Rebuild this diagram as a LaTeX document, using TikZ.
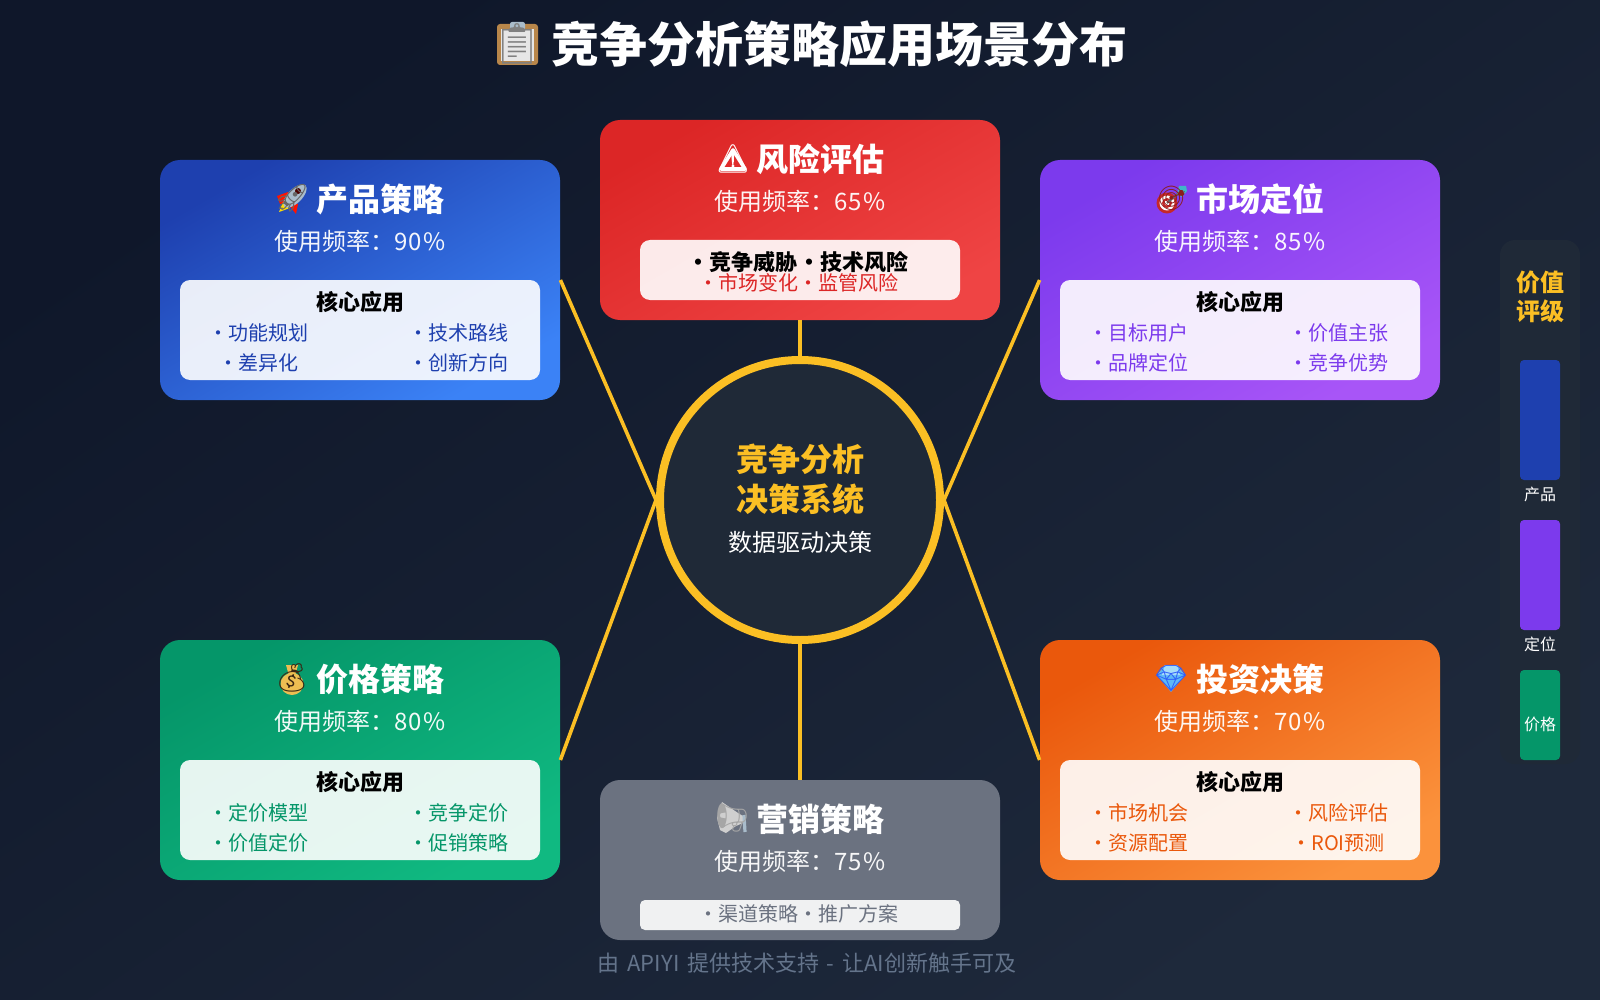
\documentclass[tikz,border=0pt]{standalone}
\usepackage{fontspec}
\setmainfont{Noto Sans CJK SC}
\newfontfamily\emojifont{Noto Emoji}

\definecolor{bgdark}{HTML}{0F172A}
\definecolor{bglight}{HTML}{1E293B}
\definecolor{hubfill}{HTML}{1F2937}
\definecolor{gold}{HTML}{FBBF24}
\definecolor{blueA}{HTML}{1E40AF}
\definecolor{blueB}{HTML}{3B82F6}
\definecolor{redA}{HTML}{DC2626}
\definecolor{redB}{HTML}{EF4444}
\definecolor{purpleA}{HTML}{7C3AED}
\definecolor{purpleB}{HTML}{A855F7}
\definecolor{greenA}{HTML}{059669}
\definecolor{greenB}{HTML}{10B981}
\definecolor{orangeA}{HTML}{EA580C}
\definecolor{orangeB}{HTML}{FB923C}
\definecolor{grayA}{HTML}{6B7280}
\definecolor{footgray}{HTML}{64748B}
\definecolor{tan}{HTML}{B8864A}
\definecolor{paper}{HTML}{E6E6E6}
\definecolor{steel}{HTML}{A9BCCB}
\definecolor{bagyellow}{HTML}{EDBE52}
\definecolor{gemblue}{HTML}{5DB8F5}
\definecolor{gemlight}{HTML}{A6DCFA}
\definecolor{dartred}{HTML}{C62828}
\definecolor{dartcyan}{HTML}{3FB6C8}
\definecolor{hornlight}{HTML}{CFCFCF}

\tikzset{
  cardbox/.style={inner sep=0pt, minimum width=200pt, rounded corners=10pt},
  cardshade/.style 2 args={top color=#1, bottom color=#2, shading angle=30},
  panelbox/.style={inner sep=0pt, minimum width=#1, fill=white, fill opacity=0.9, rounded corners=5pt},
  cardtitle/.style={inner sep=0pt, text=white, font=\fontsize{16}{16}\selectfont\bfseries},
  cardemoji/.style={inner sep=0pt, text=#1, font=\emojifont\fontsize{14}{14}\selectfont},
  cardfreq/.style={inner sep=0pt, text=white, opacity=0.95, font=\fontsize{12}{12}\selectfont},
  panelhead/.style={inner sep=0pt, text=black, font=\fontsize{11}{11}\selectfont\bfseries},
  paneltext/.style={inner sep=0pt, text=#1, font=\fontsize{10}{10}\selectfont},
  spoke/.style={draw=gold, line width=1.8pt},
  ratebar/.style={inner sep=0pt, minimum width=20pt, rounded corners=2pt, fill=#1},
  ratetext/.style={inner sep=0pt, text=white, font=\fontsize{8}{8}\selectfont},
  ratehead/.style={inner sep=0pt, text=gold, font=\fontsize{12}{12}\selectfont\bfseries}
}
\newcommand\Pct[1]{{\addfontfeature{LetterSpace=6}#1\%}}
\newcommand\Sp{\hspace{-.224em}\space}
\newcommand\Wd{\space\hspace{1.4pt}}

\begin{document}
\begin{tikzpicture}[x=0.5pt, y=-0.5pt]
\shade[top color=bgdark, bottom color=bglight, shading angle=35](0,0) rectangle (1600,1000);
\useasboundingbox (0,0) rectangle (1600,1000);

%% title
\fill[tan, rounded corners=1.5pt](497,24) rectangle (538,65);
\fill[paper](501,29) rectangle (534,61);
\fill[steel, rounded corners=1pt](510,22) rectangle (525,30);
\node[cardemoji=gray, font=\emojifont\fontsize{20}{20}\selectfont] (titleE) at (517,44) {📋};
\node[inner sep=0pt, text=white, font=\fontsize{24}{24}\selectfont\bfseries] (title) at (839,44)
{竞争分析策略应用场景分布};

%% hub
\node[circle, minimum size=140pt, inner sep=0pt, fill=hubfill, draw=gold, line width=4pt] (hub) at (800,500) {};
\node[inner sep=0pt, text=gold, font=\fontsize{16}{16}\selectfont\bfseries] (hubA) at (800,459) {竞争分析};
\node[inner sep=0pt, text=gold, font=\fontsize{16}{16}\selectfont\bfseries] (hubB) at (800,499) {决策系统};
\node[inner sep=0pt, text=white, font=\fontsize{12}{12}\selectfont] (hubC) at (800,542) {数据驱动决策};

%% product
\node[cardbox, minimum height=120pt, cardshade={blueA}{blueB}] (product) at (360,280) {};
\fill[red!85!orange](277,196) -- (288,192) -- (292,203) -- (280,204) -- cycle;
\fill[red!85!orange](288,204) -- (298,204) -- (296,214) -- cycle;
\fill[yellow!80!orange](279,212) -- (283,202) -- (290,208) -- cycle;
\fill[steel, rotate around={45:(295,196)}](295,196) ellipse [x radius=15, y radius=7];
\fill[black!70!red](298,191) circle [radius=3];
\node[cardemoji=black!60] (productE) at (292,198) {🚀};
\node[cardtitle] (productT) at (380,199) {产品策略};
\node[cardfreq] (productF) at (360,241) {使用频率：\Pct{90}};
\node[panelbox=180pt, minimum height=50pt] (productP) at (360,330) {};
\node[panelhead] (productH) at (360,302) {核心应用};
\node[paneltext=blueA] (productA) at (258,333) {•\Sp 功能规划};
\node[paneltext=blueA] (productB) at (458,333) {•\Sp 技术路线};
\node[paneltext=blueA] (productC) at (258,363) {•\Sp 差异化};
\node[paneltext=blueA] (productD) at (458,363) {•\Sp 创新方向};

%% risk
\node[cardbox, minimum height=100pt, cardshade={redA}{redB}] (risk) at (800,220) {};
\draw[white, line width=1.8pt, line join=round](733,150) -- (721,169) -- (745,169) -- cycle;
\draw[white, line width=1.4pt](733,155) -- (733,162);
\fill[white](733,166) circle [radius=1.6];
\node[cardemoji=white] (riskE) at (733,159) {⚠};
\node[cardtitle] (riskT) at (820,159) {风险评估};
\node[cardfreq] (riskF) at (800,201) {使用频率：\Pct{65}};
\node[panelbox=160pt, minimum height=30pt] (riskP) at (800,270) {};
\node[inner sep=0pt, text=black, font=\fontsize{11}{11}\selectfont\bfseries] (riskA) at (798,262) {•\Sp 竞争威胁\Sp •\Sp 技术风险};
\node[paneltext=redA] (riskB) at (798,283) {•\Sp 市场变化\Sp •\Sp 监管风险};

%% position
\node[cardbox, minimum height=120pt, cardshade={purpleA}{purpleB}] (position) at (1240,280) {};
\fill[dartred](1167,203) circle [radius=10.5];
\fill[white](1167,203) circle [radius=7.5];
\fill[dartred](1167,203) circle [radius=5];
\fill[white](1167,203) circle [radius=2.5];
\draw[black!60, line width=1pt](1167,203) -- (1180,192);
\fill[dartcyan](1177,195) -- (1179,186) -- (1186,186) -- (1187,191) -- (1182,197) -- cycle;
\node[cardemoji=dartred!70!black, font=\emojifont\fontsize{12}{12}\selectfont] (positionE) at (1172,198) {🎯};
\node[cardtitle] (positionT) at (1260,199) {市场定位};
\node[cardfreq] (positionF) at (1240,241) {使用频率：\Pct{85}};
\node[panelbox=180pt, minimum height=50pt] (positionP) at (1240,330) {};
\node[panelhead] (positionH) at (1240,302) {核心应用};
\node[paneltext=purpleA] (positionA) at (1138,333) {•\Sp 目标用户};
\node[paneltext=purpleA] (positionB) at (1338,333) {•\Sp 价值主张};
\node[paneltext=purpleA] (positionC) at (1138,363) {•\Sp 品牌定位};
\node[paneltext=purpleA] (positionD) at (1338,363) {•\Sp 竞争优势};

%% price
\node[cardbox, minimum height=120pt, cardshade={greenA}{greenB}] (price) at (360,760) {};
\fill[bagyellow](292,684) ellipse [x radius=11.5, y radius=11];
\fill[bagyellow](286,665) -- (298,665) -- (295,676) -- (289,676) -- cycle;
\node[cardemoji=black!70!brown] (priceE) at (292,678) {💰};
\node[cardtitle] (priceT) at (380,679) {价格策略};
\node[cardfreq] (priceF) at (360,721) {使用频率：\Pct{80}};
\node[panelbox=180pt, minimum height=50pt] (priceP) at (360,810) {};
\node[panelhead] (priceH) at (360,782) {核心应用};
\node[paneltext=greenA] (priceA) at (258,813) {•\Sp 定价模型};
\node[paneltext=greenA] (priceB) at (458,813) {•\Sp 竞争定价};
\node[paneltext=greenA] (priceC) at (258,843) {•\Sp 价值定价};
\node[paneltext=greenA] (priceD) at (458,843) {•\Sp 促销策略};

%% marketing
\node[inner sep=0pt, minimum width=200pt, minimum height=80pt, rounded corners=10pt, fill=grayA] (market) at (800,860) {};
\fill[hornlight](722,802) -- (738,813) -- (743,816) -- (743,823) -- (736,826) -- (726,833) -- (720,830) -- (717,818) -- cycle;
\draw[steel, line width=1.6pt](744,815) -- (745,832);
\node[cardemoji=black!35] (marketE) at (732,818) {\reflectbox{📢}};
\node[cardtitle] (marketT) at (820,819) {营销策略};
\node[cardfreq] (marketF) at (800,861) {使用频率：\Pct{75}};
\node[panelbox=160pt, minimum height=15pt, rounded corners=2.5pt] (marketP) at (800,915) {};
\node[paneltext=grayA] (marketA) at (798,914) {•\Sp 渠道策略\Sp •\Sp 推广方案};

%% invest
\node[cardbox, minimum height=120pt, cardshade={orangeA}{orangeB}] (invest) at (1240,760) {};
\fill[gemblue](1165,665) -- (1177,665) -- (1185,675) -- (1171,692) -- (1157,675) -- cycle;
\fill[gemlight](1165,665) -- (1177,665) -- (1180,675) -- (1162,675) -- cycle;
\node[cardemoji=blue!50!gemblue, font=\emojifont\fontsize{13}{13}\selectfont] (investE) at (1171,679) {💎};
\node[cardtitle] (investT) at (1260,679) {投资决策};
\node[cardfreq] (investF) at (1240,721) {使用频率：\Pct{70}};
\node[panelbox=180pt, minimum height=50pt] (investP) at (1240,810) {};
\node[panelhead] (investH) at (1240,782) {核心应用};
\node[paneltext=orangeA] (investA) at (1138,813) {•\Sp 市场机会};
\node[paneltext=orangeA] (investB) at (1338,813) {•\Sp 风险评估};
\node[paneltext=orangeA] (investC) at (1138,843) {•\Sp 资源配置};
\node[paneltext=orangeA] (investD) at (1338,843) {•\Sp ROI预测};

%% spokes
\draw[spoke] (risk.south) -- (hub.north);
\draw[spoke] (market.north) -- (hub.south);
\draw[spoke] (product.east) -- (hub.west);
\draw[spoke] (price.east) -- (hub.west);
\draw[spoke] (position.west) -- (hub.east);
\draw[spoke] (invest.west) -- (hub.east);

%% rating
\node[inner sep=0pt, minimum width=40pt, minimum height=262pt, rounded corners=7.5pt, fill=hubfill] (rating) at (1540,502) {};
\node[ratehead] (ratingA) at (1540,282) {价值};
\node[ratehead] (ratingB) at (1540,311) {评级};
\node[ratebar=blueA, minimum height=60pt] (barA) at (1540,420) {};
\node[ratetext] (barAT) at (1540,494) {产品};
\node[ratebar=purpleA, minimum height=55pt] (barB) at (1540,575) {};
\node[ratetext] (barBT) at (1540,644) {定位};
\node[ratebar=greenA, minimum height=45pt] (barC) at (1540,715) {};
\node[ratetext] (barCT) at (1540,724) {价格};

%% footer
\node[inner sep=0pt, text=footgray, font=\fontsize{11}{11}\selectfont] (footer) at (807,963) {由\Wd APIYI\Wd 提供技术支持\Wd -\Wd 让AI创新触手可及};
\end{tikzpicture}
\end{document}
